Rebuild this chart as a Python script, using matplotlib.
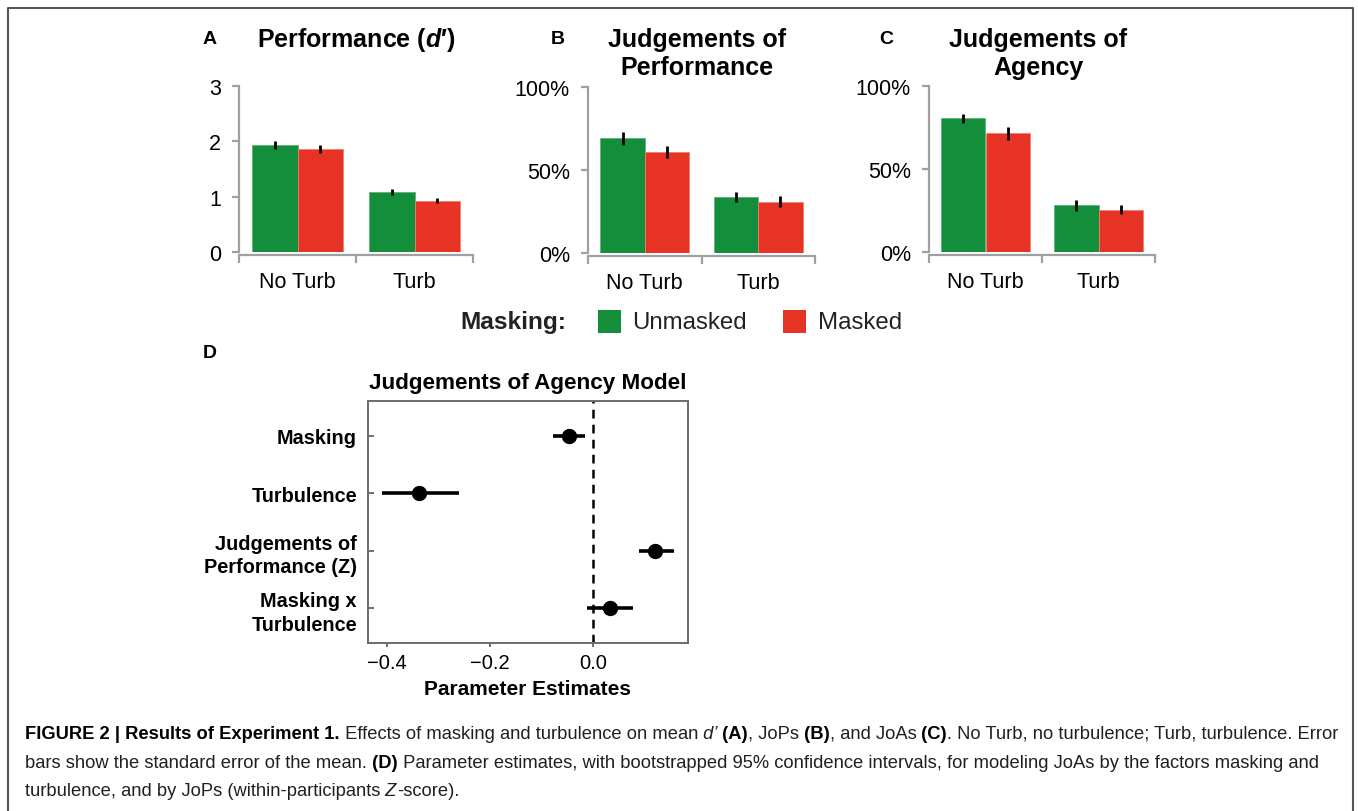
import numpy as np
import matplotlib
matplotlib.use('Agg')
import matplotlib.pyplot as plt
from matplotlib.patches import Rectangle
from matplotlib.lines import Line2D

################################################################################
# Data
################################################################################
conditions = ['No Turb', 'Turb']

# A: performance (d')
dprime_unmasked = [1.94, 1.09]
dprime_unmasked_se = [0.07, 0.055]
dprime_masked = [1.86, 0.93]
dprime_masked_se = [0.075, 0.04]

# B: judgements of performance (%)
jop_unmasked = [69.0, 33.7]
jop_unmasked_se = [3.8, 3.1]
jop_masked = [60.8, 31.0]
jop_masked_se = [3.6, 3.2]

# C: judgements of agency (%)
joa_unmasked = [80.7, 28.1]
joa_unmasked_se = [2.7, 3.3]
joa_masked = [71.5, 25.5]
joa_masked_se = [4.0, 2.7]

# D: model parameter estimates with 95% CI
terms = ['Masking', 'Turbulence', 'Judgements of\nPerformance (Z)', 'Masking x\nTurbulence']
estimates = [-0.047, -0.337, 0.119, 0.032]
ci_low = [-0.079, -0.408, 0.088, -0.013]
ci_high = [-0.016, -0.260, 0.155, 0.076]

################################################################################
# Settings
################################################################################
W, H = 1358, 812
green = '#138e3a'
red = '#e63323'
axis_gray = '#a0a0a0'
plt.rcParams['font.family'] = ['Liberation Sans', 'DejaVu Sans']
plt.rcParams['mathtext.fontset'] = 'custom'
plt.rcParams['mathtext.it'] = 'Liberation Sans:italic:bold'
plt.rcParams['mathtext.rm'] = 'Liberation Sans:bold'

fig = plt.figure(figsize=(W / 100, H / 100), dpi=100)


def px_axes(x0, y0, x1, y1):
    return fig.add_axes([x0 / W, 1 - y1 / H, (x1 - x0) / W, (y1 - y0) / H])


def fig_text(x, y, s, **kw):
    return fig.text(x / W, 1 - y / H, s, **kw)


def bar_panel(ax, unm, unm_se, msk, msk_se, ymax, yticks, yticklabels):
    x = np.arange(1, len(conditions) + 1)
    w = 0.39
    ax.bar(x - w / 2, unm, w, color=green, edgecolor='#5db27a', linewidth=0.6)
    ax.bar(x + w / 2, msk, w, color=red, edgecolor='#f08070', linewidth=0.6)
    ax.errorbar(x - w / 2, unm, yerr=unm_se, fmt='none', ecolor='black', elinewidth=2.0, capsize=0)
    ax.errorbar(x + w / 2, msk, yerr=msk_se, fmt='none', ecolor='black', elinewidth=2.0, capsize=0)
    ax.set_xlim(0.5, 2.5)
    ax.set_ylim(0, ymax)
    for s in ['top', 'right']:
        ax.spines[s].set_visible(False)
    for s in ['left', 'bottom']:
        ax.spines[s].set_color(axis_gray)
        ax.spines[s].set_linewidth(1.6)
    ax.spines['bottom'].set_position(('outward', 2))
    ax.set_xticks(x, conditions)
    ax.set_xticks([0.5, 1.5, 2.5], minor=True)
    ax.set_yticks(yticks, yticklabels)
    ax.tick_params(axis='x', which='major', length=0, pad=12, labelsize=15.5)
    ax.tick_params(axis='x', which='minor', length=6, width=1.6, color=axis_gray)
    ax.tick_params(axis='y', length=5, width=1.6, color=axis_gray, pad=8, labelsize=15.5)


################################################################################
# Panels A - C
################################################################################
axA = px_axes(239, 87, 473, 253)
bar_panel(axA, dprime_unmasked, dprime_unmasked_se, dprime_masked, dprime_masked_se,
          3, [0, 1, 2, 3], ['0', '1', '2', '3'])
axB = px_axes(588, 88, 815, 254)
bar_panel(axB, jop_unmasked, jop_unmasked_se, jop_masked, jop_masked_se,
          100, [0, 50, 100], ['0%', '50%', '100%'])
axC = px_axes(929, 87, 1155, 253)
bar_panel(axC, joa_unmasked, joa_unmasked_se, joa_masked, joa_masked_se,
          100, [0, 50, 100], ['0%', '50%', '100%'])

fig_text(356, 40, "Performance ($d$′)", fontsize=18, fontweight='bold', ha='center', va='center')
fig_text(697, 54, "Judgements of\nPerformance", fontsize=18, fontweight='bold', ha='center',
         va='center', linespacing=1.22)
fig_text(1038, 54, "Judgements of\nAgency", fontsize=18, fontweight='bold', ha='center',
         va='center', linespacing=1.22)
for lab, x, y in [('A', 203, 40), ('B', 551, 40), ('C', 879, 40), ('D', 203, 354)]:
    fig_text(x, y, lab, fontsize=14, fontweight='bold', ha='left', va='center')

# legend
fig_text(460, 323, 'Masking:', fontsize=17.6, fontweight='bold', ha='left', va='center', color='#222222')
fig.add_artist(Rectangle((598 / W, 1 - 334 / H), 23 / W, 23 / H, transform=fig.transFigure,
                         facecolor=green, edgecolor='none'))
fig_text(632, 323, 'Unmasked', fontsize=17.3, ha='left', va='center', color='#222222')
fig.add_artist(Rectangle((783 / W, 1 - 334 / H), 23 / W, 23 / H, transform=fig.transFigure,
                         facecolor=red, edgecolor='none'))
fig_text(818, 323, 'Masked', fontsize=17.3, ha='left', va='center', color='#222222')

################################################################################
# Panel D
################################################################################
axD = px_axes(368, 402, 688, 644)
ypos = np.arange(len(terms), 0, -1)
est = np.array(estimates)
xerr = [est - np.array(ci_low), np.array(ci_high) - est]
axD.axvline(0, color='black', ls=(0, (3.5, 2.5)), lw=1.8, zorder=1)
axD.errorbar(est, ypos, xerr=xerr, fmt='o', color='black', ms=10, elinewidth=2.6, capsize=0, zorder=3)
axD.set_xlim(-0.436, 0.183)
axD.set_ylim(0.4, 4.6)
axD.set_yticks(ypos, terms)
for lbl in axD.get_yticklabels():
    lbl.set_fontweight('bold')
    lbl.set_linespacing(1.3)
axD.set_xticks([-0.4, -0.2, 0.0], ['\u22120.4', '\u22120.2', '0.0'])
axD.tick_params(axis='y', direction='in', length=4, width=1.2, color='#555555', labelsize=14.3, pad=8)
axD.tick_params(axis='x', direction='out', length=3, width=1.2, color='#555555', labelsize=14.5, pad=4)
for s in axD.spines.values():
    s.set_color('#6b6b6b')
    s.set_linewidth(1.4)
axD.set_xlabel('Parameter Estimates', fontsize=15, fontweight='bold', labelpad=5)
axD.set_title('Judgements of Agency Model', fontsize=16.2, fontweight='bold', pad=9)

################################################################################
# Frame and caption
################################################################################
fig.add_artist(Line2D([8 / W, 8 / W, 1353 / W, 1353 / W], [0, 1 - 9 / H, 1 - 9 / H, 0],
                      transform=fig.transFigure, color='#555555', lw=1.5))

cap_fs = 13.2
renderer = fig.canvas.get_renderer()


def rich_line(y, parts, x=25):
    for txt, style in parts:
        kw = dict(fontsize=cap_fs, ha='left', va='baseline', color='#231f20')
        if style == 'b':
            kw['fontweight'] = 'bold'
            kw['color'] = 'black'
        elif style == 'i':
            kw['fontstyle'] = 'italic'
        t = fig_text(x, y, txt, **kw)
        bb = t.get_window_extent(renderer=renderer)
        x = bb.x1


rich_line(739, [("FIGURE 2 | Results of Experiment 1.", 'b'),
                (" Effects of masking and turbulence on mean", 'r'),
                (" d’", 'i'), (" (A)", 'b'), (", JoPs", 'r'), (" (B)", 'b'),
                (", and JoAs", 'r'), (" (C)", 'b'),
                (". No Turb, no turbulence; Turb, turbulence. Error", 'r')])
rich_line(768, [("bars show the standard error of the mean.", 'r'), (" (D)", 'b'),
                (" Parameter estimates, with bootstrapped 95% confidence intervals, for modeling JoAs by the factors masking and", 'r')])
rich_line(796, [("turbulence, and by JoPs (within-participants", 'r'), (" Z", 'i'), ("-score).", 'r')])

plt.savefig('out.png', dpi=100)
